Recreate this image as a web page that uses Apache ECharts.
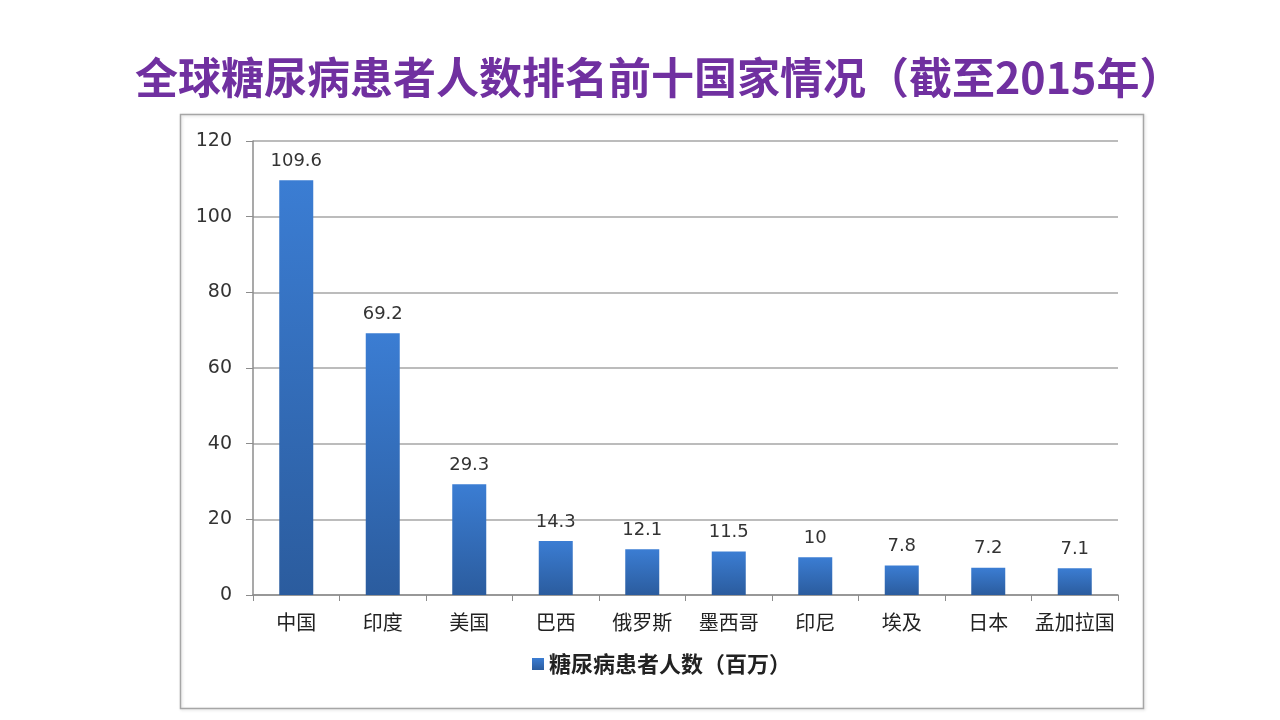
<!DOCTYPE html>
<html>
<head>
<meta charset="utf-8">
<script src="https://cdn.jsdelivr.net/npm/echarts@6/dist/echarts.min.js"></script>
<style>
html,body{margin:0;padding:0;background:#fff;}
#main{width:1280px;height:720px;}
</style>
</head>
<body>
<div id="main"></div>
<script>
const titleText = '全球糖尿病患者人数排名前十国家情况（截至2015年）';
const seriesName = '糖尿病患者人数（百万）';
const categories = ['中国','印度','美国','巴西','俄罗斯','墨西哥','印尼','埃及','日本','孟加拉国'];
const values = [109.6, 69.2, 29.3, 14.3, 12.1, 11.5, 10, 7.8, 7.2, 7.1];

const chart = echarts.init(document.getElementById('main'));
const fontCJK = '"Noto Sans CJK SC", "Microsoft YaHei", sans-serif';
const fontNum = '"DejaVu Sans", "Open Sans", sans-serif';
chart.setOption({
  backgroundColor: '#ffffff',
  animation: false,
  title: {
    text: titleText,
    left: 130,
    top: 51,
    textStyle: { color: '#7030a0', fontSize: 43, fontWeight: 'bold', fontFamily: fontCJK }
  },
  graphic: [{
    type: 'rect',
    shape: { x: 180.5, y: 114.5, width: 963, height: 594 },
    style: { fill: 'none', stroke: '#a6a6a6', lineWidth: 1.5, shadowColor: 'rgba(0,0,0,0.15)', shadowBlur: 3, shadowOffsetX: 1, shadowOffsetY: 1 },
    z: -1
  }],
  legend: {
    data: [seriesName],
    bottom: 40,
    left: 527,
    itemWidth: 12,
    itemHeight: 12,
    itemGap: 6,
    icon: 'rect',
    textStyle: { color: '#222', fontSize: 22, fontFamily: fontCJK, fontWeight: 'bold' }
  },
  grid: { left: 253, right: 162, top: 141, bottom: 125, containLabel: false },
  xAxis: {
    type: 'category',
    data: categories,
    axisLine: { lineStyle: { color: '#8c8c8c', width: 1.5 } },
    axisTick: { show: true, length: 6, interval: 0, alignWithLabel: false, lineStyle: { color: '#8c8c8c' } },
    axisLabel: { interval: 0, color: '#222', fontSize: 20, margin: 17, fontFamily: fontCJK }
  },
  yAxis: {
    type: 'value',
    min: 0, max: 120, interval: 20,
    axisLine: { show: true, lineStyle: { color: '#8c8c8c', width: 1.5 } },
    axisTick: { show: true, length: 7, lineStyle: { color: '#8c8c8c' } },
    axisLabel: { color: '#333', fontSize: 19, margin: 21, fontFamily: fontNum },
    splitLine: { lineStyle: { color: '#a6a6a6', width: 1.5 } }
  },
  series: [{
    name: seriesName,
    type: 'bar',
    data: values,
    barWidth: 34,
    itemStyle: {
      color: new echarts.graphic.LinearGradient(0, 0, 0, 1, [
        { offset: 0, color: '#3b7dd3' },
        { offset: 1, color: '#2b5c9e' }
      ])
    },
    label: {
      show: true,
      position: 'top',
      distance: 10,
      color: '#333',
      fontSize: 18,
      fontFamily: fontNum
    }
  }]
});
</script>
</body>
</html>
